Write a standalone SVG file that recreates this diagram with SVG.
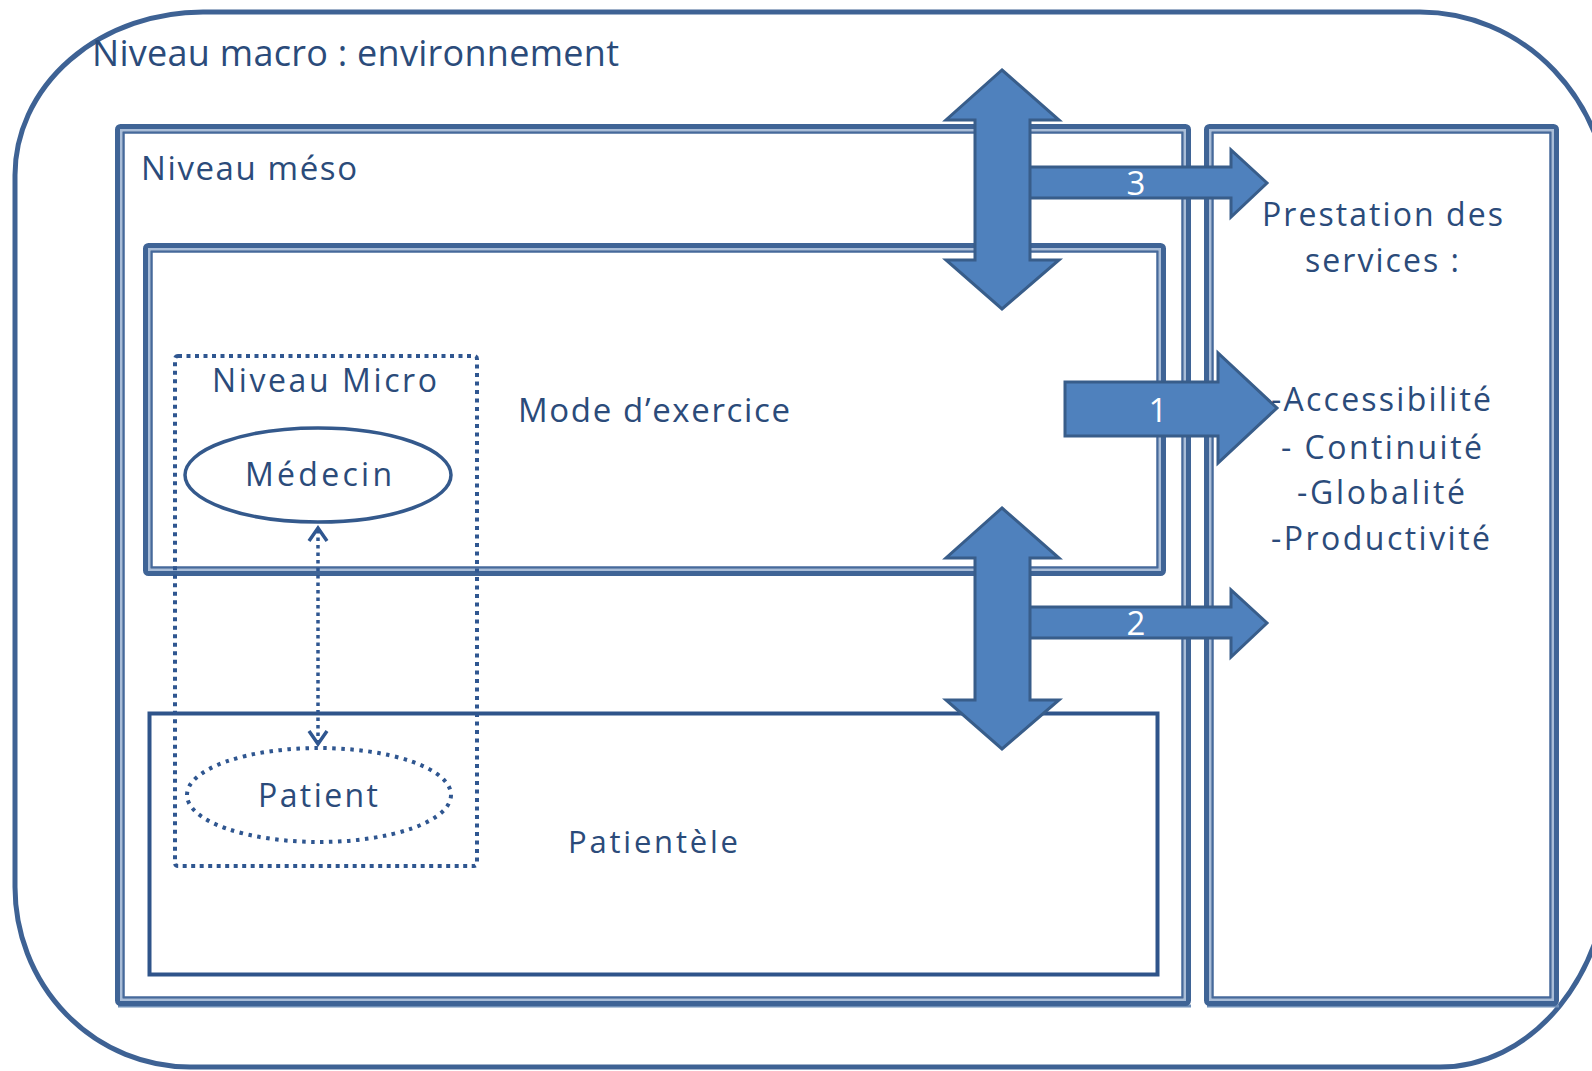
<svg xmlns="http://www.w3.org/2000/svg" width="1592" height="1071" viewBox="0 0 1592 1071">
  <style>
    .outer { fill: none; stroke: #3e6294; stroke-width: 5; }
    .b1 { fill: none; stroke: #3f6496; stroke-width: 5; }
    .b2 { fill: none; stroke: #a9bdd8; stroke-width: 2; }
    .b3 { fill: none; stroke: #46699b; stroke-width: 2.5; }
    .shadow { fill: none; stroke: #6f8fb8; stroke-width: 3; }
    .solid { fill: none; stroke: #2f548a; stroke-width: 4; }
    .dots { fill: none; stroke: #2f5690; stroke-width: 4; stroke-dasharray: 4 4.5; }
    .ell { fill: none; stroke: #34598c; stroke-width: 3.5; }
    .ell-dot { fill: none; stroke: #2f5690; stroke-width: 4; stroke-dasharray: 3.5 5.5; }
    .link { fill: none; stroke: #2f5690; stroke-width: 3.5; stroke-dasharray: 3.5 4; }
    .chev { fill: none; stroke: #2f5690; stroke-width: 3.5; stroke-linejoin: miter; }
    .arrow { fill: #4f81bd; stroke: #385d8a; stroke-width: 3; stroke-linejoin: miter; }
    .t { font-family: "Open Sans", "Liberation Sans", sans-serif; fill: #2b4b7a; font-variant-ligatures: none; }
    .num { font-family: "Open Sans", "Liberation Sans", sans-serif; fill: #ffffff; font-size: 33px; text-anchor: middle; }
  </style>

  <rect width="1592" height="1071" fill="#ffffff"/>

  <!-- macro level: environment -->
  <g id="macro">
    <path class="outer" d="M 203,12 L 1420,12 A 190 200 0 0 1 1610,212 L 1610,856 A 170 211 0 0 1 1440,1067 L 190,1067 A 175 180 0 0 1 15,887 L 15,175 A 188 163 0 0 1 203,12 Z"/>
    <text class="t" x="92" y="66" font-size="36" textLength="527" lengthAdjust="spacing">Niveau macro : environnement</text>
  </g>

  <!-- meso level -->
  <g id="meso">
    <line class="shadow" x1="118" y1="1006" x2="1191" y2="1006"/>
    <rect class="b1" x="117.5" y="126.5" width="1071" height="877" rx="3"/>
    <rect class="b2" x="121" y="130" width="1064" height="870"/>
    <rect class="b3" x="123.5" y="132.5" width="1059" height="865"/>
    <text class="t" x="141" y="180" font-size="33" textLength="216" lengthAdjust="spacing">Niveau méso</text>
  </g>

  <!-- practice mode -->
  <g id="mode-exercice">
    <rect class="b1" x="145.5" y="245.5" width="1018" height="328" rx="3"/>
    <rect class="b2" x="149" y="249" width="1011" height="321"/>
    <rect class="b3" x="151.5" y="251.5" width="1006" height="316"/>
    <text class="t" x="518" y="422" font-size="33" textLength="272" lengthAdjust="spacing">Mode d’exercice</text>
  </g>

  <!-- patient base -->
  <g id="patientele">
    <rect class="solid" x="149.5" y="713.5" width="1008" height="261"/>
    <text class="t" x="568" y="853" font-size="31" textLength="170" lengthAdjust="spacing">Patientèle</text>
  </g>

  <!-- micro level -->
  <g id="micro">
    <rect class="dots" x="175" y="356" width="302" height="510" rx="3"/>
    <text class="t" x="212" y="392" font-size="32" textLength="225" lengthAdjust="spacing">Niveau Micro</text>
  </g>

  <g id="medecin">
    <ellipse class="ell" cx="318" cy="475" rx="133" ry="47"/>
    <text class="t" x="245" y="486" font-size="32" textLength="147" lengthAdjust="spacing">Médecin</text>
  </g>

  <g id="patient">
    <ellipse class="ell-dot" cx="319" cy="795" rx="132" ry="47"/>
    <text class="t" x="258" y="807" font-size="32" textLength="120" lengthAdjust="spacing">Patient</text>
  </g>

  <!-- service delivery -->
  <g id="prestation">
    <line class="shadow" x1="1207" y1="1006" x2="1559" y2="1006"/>
    <rect class="b1" x="1206.5" y="126.5" width="350" height="877" rx="3"/>
    <rect class="b2" x="1210" y="130" width="343" height="870"/>
    <rect class="b3" x="1212.5" y="132.5" width="338" height="865"/>
    <text class="t" x="1262" y="226" font-size="32" textLength="241" lengthAdjust="spacing">Prestation des</text>
    <text class="t" x="1305" y="272" font-size="32" textLength="154" lengthAdjust="spacing">services :</text>
  </g>

  <!-- connectors -->
  <g id="connectors">
    <!-- doctor / patient dotted link -->
    <line class="link" x1="318" y1="530" x2="318" y2="743"/>
    <polyline class="chev" points="309,541 318,528 327,541"/>
    <polyline class="chev" points="309,731 318,744 327,731"/>

    <!-- arrow 3 -->
    <path class="arrow" d="M1028,167 L1231,167 L1231,150 L1267,183 L1231,217 L1231,198 L1028,198 Z"/>
    <text class="num" x="1136" y="195">3</text>
    <!-- upper double arrow -->
    <path class="arrow" d="M1002,70 L1059,120 L1030,120 L1030,260 L1059,260 L1002,309 L946,260 L975,260 L975,120 L946,120 Z"/>

    <!-- arrow 2 -->
    <path class="arrow" d="M1028,607 L1231,607 L1231,590 L1267,623 L1231,657 L1231,638 L1028,638 Z"/>
    <text class="num" x="1136" y="635">2</text>
    <!-- lower double arrow -->
    <path class="arrow" d="M1002,508 L1059,558 L1030,558 L1030,700 L1059,700 L1002,749 L946,700 L975,700 L975,558 L946,558 Z"/>

    <!-- arrow 1 -->
    <path class="arrow" d="M1065,382 L1218,382 L1218,353 L1277,408 L1218,463 L1218,436 L1065,436 Z"/>
    <text class="num" x="1158" y="422">1</text>
  </g>

  <!-- service list -->
  <g id="services">
    <text class="t" x="1271" y="411" font-size="32" textLength="220" lengthAdjust="spacing">-Accessibilité</text>
    <text class="t" x="1281" y="459" font-size="32" textLength="201" lengthAdjust="spacing">- Continuité</text>
    <text class="t" x="1297" y="504" font-size="32" textLength="168" lengthAdjust="spacing">-Globalité</text>
    <text class="t" x="1271" y="550" font-size="32" textLength="219" lengthAdjust="spacing">-Productivité</text>
  </g>
</svg>
